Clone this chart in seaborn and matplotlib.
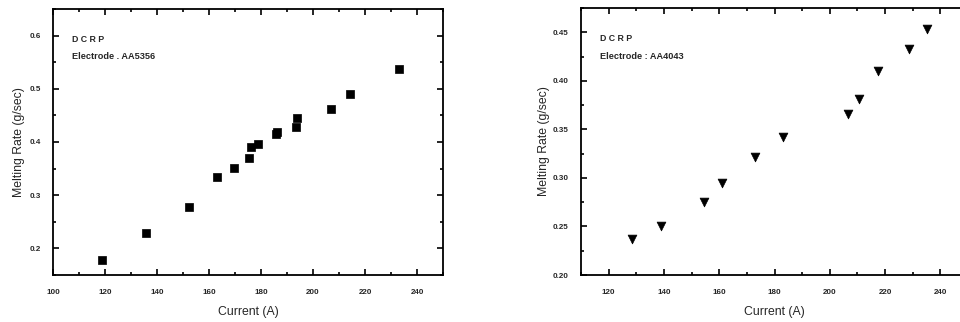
import matplotlib
matplotlib.use("Agg")
import matplotlib.pyplot as plt
import seaborn as sns
import pandas as pd
from matplotlib.ticker import MultipleLocator

sns.set_style("ticks")
plt.rcParams['font.family'] = ['Liberation Sans', 'DejaVu Sans']

# Left panel: Electrode AA5356
current_5356 = [118.8, 135.6, 152.3, 162.9, 169.6, 175.4, 176.3, 178.7, 185.6, 186.3, 193.5, 193.8, 206.8, 214.2, 232.9]
rate_5356 = [0.179, 0.229, 0.278, 0.335, 0.352, 0.370, 0.391, 0.396, 0.415, 0.419, 0.428, 0.446, 0.462, 0.491, 0.538]
xticks_5356 = [100, 120, 140, 160, 180, 200, 220, 240]
yticks_5356 = [0.2, 0.3, 0.4, 0.5, 0.6]
ylabels_5356 = ["0.2", "0.3", "0.4", "0.5", "0.6"]

# Right panel: Electrode AA4043
current_4043 = [128.6, 138.8, 154.4, 160.9, 173.0, 183.2, 206.5, 210.4, 217.3, 228.5, 235.3]
rate_4043 = [0.237, 0.250, 0.275, 0.295, 0.322, 0.342, 0.366, 0.381, 0.410, 0.433, 0.453]
xticks_4043 = [120, 140, 160, 180, 200, 220, 240]
yticks_4043 = [0.20, 0.25, 0.30, 0.35, 0.40, 0.45]
ylabels_4043 = ["0.20", "0.25", "0.30", "0.35", "0.40", "0.45"]

W, H = 960, 322
fig = plt.figure(figsize=(W / 100, H / 100), dpi=100)

def px_axes(l, t, r, b):
    return fig.add_axes([l / W, 1 - b / H, (r - l) / W, (b - t) / H])

ax1 = px_axes(53, 9, 443, 275)
ax2 = px_axes(581, 8, 968, 275)

df1 = pd.DataFrame({"Current": current_5356, "Rate": rate_5356})
df2 = pd.DataFrame({"Current": current_4043, "Rate": rate_4043})

sns.scatterplot(data=df1, x="Current", y="Rate", ax=ax1, marker="s", color="black",
                s=30, edgecolor="black", linewidth=0.5)
sns.scatterplot(data=df2, x="Current", y="Rate", ax=ax2, marker="v", color="black",
                s=40, edgecolor="black", linewidth=0.5)

def style(ax, xlim, ylim, xticks, xminor, yticks, ylabels, yminor, elec, ylpad):
    ax.set_xlim(*xlim)
    ax.set_ylim(*ylim)
    ax.set_xticks(xticks)
    ax.set_xticklabels([str(v) for v in xticks], fontsize=5.8, fontweight="bold")
    ax.xaxis.set_minor_locator(MultipleLocator(xminor))
    ax.set_yticks(yticks)
    ax.set_yticklabels(ylabels, fontsize=5.8, fontweight="bold")
    ax.yaxis.set_minor_locator(MultipleLocator(yminor))
    ax.tick_params(which="both", direction="in", top=True, right=True, width=1.2, color="black")
    ax.tick_params(which="major", length=4)
    ax.tick_params(axis="x", which="major", pad=10)
    ax.tick_params(axis="y", which="major", pad=9)
    ax.tick_params(which="minor", length=2.5)
    for sp in ax.spines.values():
        sp.set_linewidth(1.3)
        sp.set_color("black")
        sp.set_visible(True)
    ax.set_xlabel("Current (A)", fontsize=8.8, labelpad=7)
    ax.set_ylabel("Melting Rate (g/sec)", fontsize=8.8, labelpad=ylpad)
    ax.text(0.048, 0.885, "D C R P", transform=ax.transAxes, fontsize=6.3, fontweight="bold",
            ha="left", va="center")
    ax.text(0.048, 0.82, elec, transform=ax.transAxes, fontsize=6.6, fontweight="bold",
            ha="left", va="center")

style(ax1, (100, 250), (0.15, 0.65), xticks_5356, 10, yticks_5356, ylabels_5356, 0.05,
      "Electrode . AA5356", 3)
style(ax2, (110, 250), (0.20, 0.475), xticks_4043, 10, yticks_4043, ylabels_4043, 0.025,
      "Electrode : AA4043", 2)

fig.savefig("out.png", dpi=100, facecolor="white")
